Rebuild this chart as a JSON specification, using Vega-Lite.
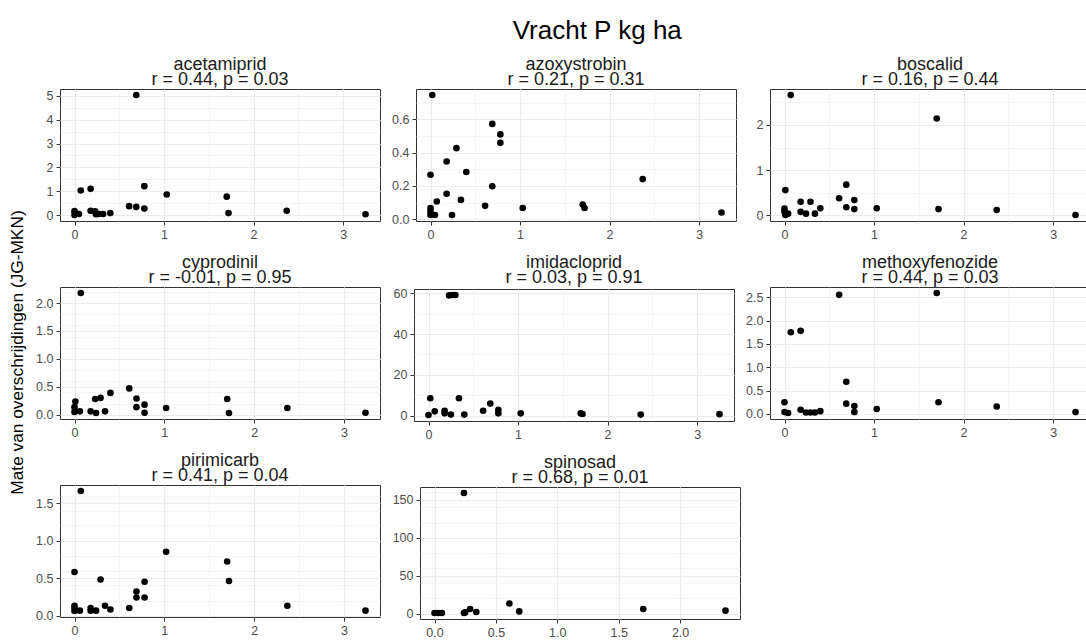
{
  "$schema": "https://vega.github.io/schema/vega-lite/v6.json",
  "padding": {"left": 0, "top": 18, "right": 4, "bottom": 0},
  "background": "white",
  "title": {"text": "Vracht P kg ha", "fontSize": 26, "font": "Liberation Sans", "fontWeight": "normal", "color": "#000000", "anchor": "middle", "offset": 11, "dx": 52},
  "spacing": 0,
  "config": {
    "font": "Liberation Sans",
    "view": {"stroke": "#333333", "strokeWidth": 1},
    "axis": {"labelFont": "Liberation Sans", "labelFontSize": 12.5, "labelColor": "#4d4d4d", "tickColor": "#333333", "tickSize": 4, "tickWidth": 1, "labelPadding": 3, "domain": false, "gridColor": "#ebebeb", "gridWidth": 1.1, "labelFlush": false, "labelOverlap": false, "titleFont": "Liberation Sans"}
  },
  "datasets": {
    "pts": [
      {"c":"acetamiprid","x":0.69,"y":5.04},{"c":"acetamiprid","x":0.07,"y":1.03},{"c":"acetamiprid","x":0.18,"y":1.10},{"c":"acetamiprid","x":0.78,"y":1.21},{"c":"acetamiprid","x":1.03,"y":0.86},{"c":"acetamiprid","x":1.70,"y":0.77},{"c":"acetamiprid","x":1.72,"y":0.08},{"c":"acetamiprid","x":2.37,"y":0.18},{"c":"acetamiprid","x":3.25,"y":0.03},{"c":"acetamiprid","x":0.61,"y":0.37},{"c":"acetamiprid","x":0.69,"y":0.34},{"c":"acetamiprid","x":0.78,"y":0.27},{"c":"acetamiprid","x":0.18,"y":0.18},{"c":"acetamiprid","x":0.23,"y":0.15},{"c":"acetamiprid","x":0.27,"y":0.04},{"c":"acetamiprid","x":0.32,"y":0.04},{"c":"acetamiprid","x":0.40,"y":0.08},{"c":"acetamiprid","x":0.00,"y":0.16},{"c":"acetamiprid","x":0.01,"y":0.07},{"c":"acetamiprid","x":0.05,"y":0.04},{"c":"acetamiprid","x":0.00,"y":0.00},{"c":"acetamiprid","x":0.24,"y":0.03},
      {"c":"azoxystrobin","x":0.02,"y":0.747},{"c":"azoxystrobin","x":0.69,"y":0.573},{"c":"azoxystrobin","x":0.78,"y":0.51},{"c":"azoxystrobin","x":0.78,"y":0.459},{"c":"azoxystrobin","x":0.29,"y":0.427},{"c":"azoxystrobin","x":0.18,"y":0.347},{"c":"azoxystrobin","x":0.40,"y":0.284},{"c":"azoxystrobin","x":0.00,"y":0.267},{"c":"azoxystrobin","x":0.69,"y":0.198},{"c":"azoxystrobin","x":2.37,"y":0.241},{"c":"azoxystrobin","x":0.18,"y":0.153},{"c":"azoxystrobin","x":0.34,"y":0.116},{"c":"azoxystrobin","x":0.07,"y":0.106},{"c":"azoxystrobin","x":0.61,"y":0.08},{"c":"azoxystrobin","x":1.03,"y":0.067},{"c":"azoxystrobin","x":1.70,"y":0.088},{"c":"azoxystrobin","x":1.72,"y":0.067},{"c":"azoxystrobin","x":0.00,"y":0.067},{"c":"azoxystrobin","x":0.00,"y":0.045},{"c":"azoxystrobin","x":0.00,"y":0.025},{"c":"azoxystrobin","x":0.05,"y":0.025},{"c":"azoxystrobin","x":0.24,"y":0.025},{"c":"azoxystrobin","x":3.25,"y":0.04},
      {"c":"boscalid","x":0.07,"y":2.66},{"c":"boscalid","x":1.70,"y":2.14},{"c":"boscalid","x":0.01,"y":0.56},{"c":"boscalid","x":0.69,"y":0.68},{"c":"boscalid","x":0.61,"y":0.38},{"c":"boscalid","x":0.69,"y":0.18},{"c":"boscalid","x":0.78,"y":0.34},{"c":"boscalid","x":0.78,"y":0.14},{"c":"boscalid","x":0.18,"y":0.30},{"c":"boscalid","x":0.29,"y":0.30},{"c":"boscalid","x":0.18,"y":0.08},{"c":"boscalid","x":0.24,"y":0.04},{"c":"boscalid","x":0.34,"y":0.04},{"c":"boscalid","x":0.40,"y":0.16},{"c":"boscalid","x":1.03,"y":0.16},{"c":"boscalid","x":1.72,"y":0.14},{"c":"boscalid","x":2.37,"y":0.12},{"c":"boscalid","x":3.25,"y":0.01},{"c":"boscalid","x":0.00,"y":0.15},{"c":"boscalid","x":0.00,"y":0.08},{"c":"boscalid","x":0.04,"y":0.04},{"c":"boscalid","x":0.01,"y":0.01},
      {"c":"cyprodinil","x":0.07,"y":2.18},{"c":"cyprodinil","x":0.61,"y":0.47},{"c":"cyprodinil","x":0.40,"y":0.39},{"c":"cyprodinil","x":0.29,"y":0.30},{"c":"cyprodinil","x":0.23,"y":0.28},{"c":"cyprodinil","x":0.69,"y":0.29},{"c":"cyprodinil","x":0.69,"y":0.135},{"c":"cyprodinil","x":0.78,"y":0.18},{"c":"cyprodinil","x":0.78,"y":0.035},{"c":"cyprodinil","x":1.02,"y":0.12},{"c":"cyprodinil","x":1.70,"y":0.28},{"c":"cyprodinil","x":1.72,"y":0.03},{"c":"cyprodinil","x":2.37,"y":0.12},{"c":"cyprodinil","x":3.24,"y":0.035},{"c":"cyprodinil","x":0.01,"y":0.235},{"c":"cyprodinil","x":0.00,"y":0.135},{"c":"cyprodinil","x":0.00,"y":0.05},{"c":"cyprodinil","x":0.06,"y":0.06},{"c":"cyprodinil","x":0.18,"y":0.06},{"c":"cyprodinil","x":0.24,"y":0.03},{"c":"cyprodinil","x":0.34,"y":0.06},
      {"c":"imidacloprid","x":0.23,"y":59.0},{"c":"imidacloprid","x":0.27,"y":59.2},{"c":"imidacloprid","x":0.30,"y":59.2},{"c":"imidacloprid","x":0.02,"y":8.5},{"c":"imidacloprid","x":0.34,"y":8.5},{"c":"imidacloprid","x":0.69,"y":5.9},{"c":"imidacloprid","x":0.78,"y":2.9},{"c":"imidacloprid","x":0.78,"y":1.1},{"c":"imidacloprid","x":0.61,"y":2.4},{"c":"imidacloprid","x":0.07,"y":2.1},{"c":"imidacloprid","x":0.18,"y":2.4},{"c":"imidacloprid","x":0.18,"y":1.1},{"c":"imidacloprid","x":0.25,"y":0.5},{"c":"imidacloprid","x":0.40,"y":0.5},{"c":"imidacloprid","x":1.03,"y":1.1},{"c":"imidacloprid","x":1.70,"y":1.1},{"c":"imidacloprid","x":1.72,"y":0.8},{"c":"imidacloprid","x":2.37,"y":0.5},{"c":"imidacloprid","x":3.25,"y":0.7},{"c":"imidacloprid","x":0.00,"y":0.3},
      {"c":"methoxyfenozide","x":0.61,"y":2.55},{"c":"methoxyfenozide","x":1.70,"y":2.59},{"c":"methoxyfenozide","x":0.07,"y":1.75},{"c":"methoxyfenozide","x":0.18,"y":1.78},{"c":"methoxyfenozide","x":0.69,"y":0.69},{"c":"methoxyfenozide","x":0.69,"y":0.22},{"c":"methoxyfenozide","x":0.78,"y":0.17},{"c":"methoxyfenozide","x":0.78,"y":0.04},{"c":"methoxyfenozide","x":1.03,"y":0.105},{"c":"methoxyfenozide","x":1.72,"y":0.25},{"c":"methoxyfenozide","x":2.37,"y":0.16},{"c":"methoxyfenozide","x":3.25,"y":0.04},{"c":"methoxyfenozide","x":0.00,"y":0.25},{"c":"methoxyfenozide","x":0.00,"y":0.04},{"c":"methoxyfenozide","x":0.04,"y":0.02},{"c":"methoxyfenozide","x":0.18,"y":0.09},{"c":"methoxyfenozide","x":0.24,"y":0.03},{"c":"methoxyfenozide","x":0.29,"y":0.03},{"c":"methoxyfenozide","x":0.34,"y":0.03},{"c":"methoxyfenozide","x":0.40,"y":0.06},
      {"c":"pirimicarb","x":0.07,"y":1.66},{"c":"pirimicarb","x":1.02,"y":0.85},{"c":"pirimicarb","x":1.70,"y":0.72},{"c":"pirimicarb","x":1.72,"y":0.46},{"c":"pirimicarb","x":0.00,"y":0.58},{"c":"pirimicarb","x":0.29,"y":0.48},{"c":"pirimicarb","x":0.78,"y":0.45},{"c":"pirimicarb","x":0.69,"y":0.32},{"c":"pirimicarb","x":0.69,"y":0.24},{"c":"pirimicarb","x":0.78,"y":0.24},{"c":"pirimicarb","x":0.61,"y":0.10},{"c":"pirimicarb","x":2.37,"y":0.13},{"c":"pirimicarb","x":3.24,"y":0.065},{"c":"pirimicarb","x":0.34,"y":0.13},{"c":"pirimicarb","x":0.40,"y":0.08},{"c":"pirimicarb","x":0.18,"y":0.10},{"c":"pirimicarb","x":0.18,"y":0.065},{"c":"pirimicarb","x":0.24,"y":0.065},{"c":"pirimicarb","x":0.00,"y":0.13},{"c":"pirimicarb","x":0.00,"y":0.10},{"c":"pirimicarb","x":0.00,"y":0.06},{"c":"pirimicarb","x":0.06,"y":0.065},
      {"c":"spinosad","x":0.24,"y":158.9},{"c":"spinosad","x":0.61,"y":13.4},{"c":"spinosad","x":0.69,"y":3.0},{"c":"spinosad","x":1.70,"y":6.1},{"c":"spinosad","x":0.29,"y":6.1},{"c":"spinosad","x":0.34,"y":2.2},{"c":"spinosad","x":0.24,"y":0.9},{"c":"spinosad","x":0.25,"y":1.7},{"c":"spinosad","x":0.00,"y":0.9},{"c":"spinosad","x":0.03,"y":0.9},{"c":"spinosad","x":0.06,"y":0.9},{"c":"spinosad","x":2.37,"y":4.0}
    ],
    "ytitle": [{"t": "Mate van overschrijdingen (JG-MKN)"}]
  },
  "hconcat": [
    {
      "data": {"name": "ytitle"},
      "width": 35,
      "height": 527,
      "view": {"stroke": null},
      "mark": {"type": "text", "angle": 270, "fontSize": 17.3, "font": "Liberation Sans", "color": "#000000", "baseline": "middle", "align": "center"},
      "encoding": {"text": {"field": "t"}}
    },
    {
      "data": {"name": "pts"},
      "facet": {"field": "c", "type": "nominal", "sort": "ascending",
        "header": {"title": null, "labelFontSize": 18, "labelFont": "Liberation Sans", "labelColor": "#1a1a1a", "labelLineHeight": 15.5, "labelPadding": 0, "labelBaseline": "top",
          "labelExpr": "[datum.value, {'acetamiprid':'r = 0.44, p = 0.03','azoxystrobin':'r = 0.21, p = 0.31','boscalid':'r = 0.16, p = 0.44','cyprodinil':'r = -0.01, p = 0.95','imidacloprid':'r = 0.03, p = 0.91','methoxyfenozide':'r = 0.44, p = 0.03','pirimicarb':'r = 0.41, p = 0.04','spinosad':'r = 0.68, p = 0.01'}[datum.value]]"}},
      "columns": 3,
      "spacing": {"column": 10, "row": 12},
      "resolve": {"scale": {"x": "independent", "y": "independent"}},
      "spec": {
        "width": 320,
        "height": 132,
        "layer": [
          {
            "mark": {"type": "point", "opacity": 0},
            "encoding": {
              "x": {"field": "x", "type": "quantitative", "scale": {"zero": false, "nice": false, "padding": 14.5},
                "axis": {"orient": "bottom", "title": null, "tickCount": 8, "labels": false, "ticks": false, "grid": true, "gridWidth": 0.55, "minExtent": 0, "maxExtent": 0}},
              "y": {"field": "y", "type": "quantitative", "scale": {"zero": false, "nice": false, "padding": 6},
                "axis": {"orient": "left", "title": null, "tickCount": 8, "labels": false, "ticks": false, "grid": true, "gridWidth": 0.55, "minExtent": 0, "maxExtent": 0}}
            }
          },
          {
            "mark": {"type": "circle", "size": 44, "color": "#000000", "opacity": 1},
            "encoding": {
              "x": {"field": "x", "type": "quantitative", "axis": {"orient": "bottom", "title": null, "tickCount": 4, "grid": true}},
              "y": {"field": "y", "type": "quantitative", "axis": {"orient": "left", "title": null, "tickCount": 4, "grid": true, "minExtent": 22, "maxExtent": 22}}
            }
          }
        ],
        "resolve": {"axis": {"x": "independent", "y": "independent"}}
      }
    }
  ]
}
